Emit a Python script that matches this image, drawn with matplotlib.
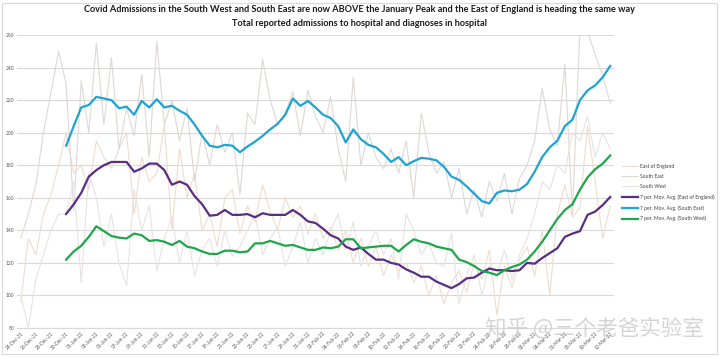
import matplotlib
matplotlib.use("Agg")
import matplotlib.pyplot as plt
import matplotlib.dates as mdates
import matplotlib.patches as mpatches
import numpy as np
import pandas as pd

# ---------------- data ----------------
start_date = "2021-12-24"
end_date = "2022-03-12"
dates = pd.date_range(start_date, end_date, freq="D")

east_of_england = [96, 135, 125, 150, 162, 180, 200, 175, 180, 165,
                   195, 185, 178, 190, 200, 150, 185, 170, 175, 205,
                   140, 190, 160, 175, 140, 150, 130, 160, 165, 138,
                   155, 145, 168, 152, 140, 160, 148, 155, 138, 150,
                   135, 142, 128, 140, 120, 135, 118, 130, 112, 125,
                   115, 120, 108, 118, 100, 112, 95, 108, 115, 102,
                   120, 110, 128, 88, 118, 105, 122, 130, 112, 140,
                   100, 150, 168, 148, 154, 204, 170, 135, 155]

south_east = [135, 150, 168, 200, 225, 250, 230, 152, 232, 200,
              255, 205, 246, 190, 215, 198, 236, 185, 256, 205,
              220, 195, 215, 170, 200, 180, 205, 188, 200, 162,
              212, 205, 245, 220, 205, 212, 225, 198, 226, 210,
              200, 222, 190, 170, 234, 180, 200, 185, 178, 190,
              175, 195, 160, 212, 188, 175, 182, 160, 178, 150,
              165, 148, 170, 158, 175, 150, 172, 180, 195, 227,
              202, 192, 242, 150, 265, 262, 248, 235, 218]

south_west = [100, 80, 110, 125, 140, 150, 150, 170, 108, 175,
              160, 130, 150, 120, 106, 165, 140, 155, 115, 135,
              148, 120, 140, 112, 128, 135, 118, 140, 124, 130,
              140, 150, 125, 135, 142, 118, 130, 145, 120, 135,
              125, 140, 150, 128, 145, 118, 130, 140, 125, 135,
              110, 150, 140, 125, 132, 120, 118, 138, 95, 112,
              125, 100, 118, 112, 128, 110, 125, 135, 150, 170,
              165, 180, 175, 200, 195, 210, 185, 200, 190]

# 7-period moving averages (shown from the 7th day onward)
ma_east_of_england = [150, 156, 163, 173, 177, 180, 182, 182, 182, 176,
                      178, 181, 181, 177, 168, 170, 168, 161, 156, 149,
                      149.5, 152.5, 149.5, 149.5, 150, 148, 150.5, 149.5, 149.5, 149.5,
                      152.5, 149.5, 145.5, 144.5, 141, 137, 135, 130, 128, 129.5,
                      125.5, 122, 122, 120, 119, 116, 114, 111.5, 111.5, 108.5,
                      106.5, 104.5, 107, 110.5, 111, 114, 116.5, 115.5, 115.5, 115,
                      115.5, 120, 119.5, 123, 126, 129, 136, 138, 139.5, 149.5,
                      151.5, 155.5, 160.5]

ma_south_east = [192, 204, 215.5, 217, 222, 221, 220, 215, 216, 211,
                 219.5, 215.5, 220.5, 215.5, 216.5, 213.5, 211, 205, 198, 192,
                 191, 192.5, 192, 188, 191.5, 194.5, 198, 202, 205.5, 211,
                 221, 216.5, 219.5, 215.5, 211, 209, 204, 194, 202, 196,
                 192.5, 191, 187, 182, 185, 180, 182.5, 184.5, 184, 183,
                 179, 173, 171, 167, 162.5, 158, 156.5, 163, 164.5, 164,
                 165, 168.5, 176, 185, 191, 195, 204, 208, 220, 226,
                 229, 234, 241]

ma_south_west = [122, 127, 130.5, 136, 142.5, 139.5, 136.5, 135.5, 135, 138,
                 137, 133.5, 134, 133, 131, 133.5, 130, 129, 127, 125.5,
                 125.5, 127.5, 127.5, 126.5, 127, 132, 132, 133.5, 132, 130.5,
                 131, 129.5, 128, 128, 129.5, 129, 130, 134.5, 134.5, 129,
                 129.5, 130, 130.5, 130.5, 127, 131, 134.5, 133, 132, 130,
                 129, 128, 122, 120.5, 118, 115, 114, 112.5, 115.5, 117.5,
                 119, 122, 127, 133, 140, 147, 152.5, 156, 165, 172.5,
                 177.5, 181, 186]

ma_window = 7

title_line1 = ("Covid Admissions in the South West and South East are now ABOVE "
               "the January Peak and the East of England is heading the same way")
title_line2 = "Total reported admissions to hospital and diagnoses in hospital"
watermark = "知乎 @三个老爸实验室"

# ---------------- figure ----------------
plt.rcParams["font.family"] = ["Lato", "DejaVu Sans"]
fig = plt.figure(figsize=(7.2, 3.57), dpi=100)
ax = fig.add_axes([17 / 720, 1 - 328 / 357, (614 - 17) / 720, (328 - 35) / 357])

raw_lw = 0.8
ax.plot(dates, east_of_england, color="#efdccd", lw=raw_lw, label="East of England", zorder=2)
ax.plot(dates, south_east, color="#ddd8d5", lw=raw_lw, label="South East", zorder=2)
ax.plot(dates, south_west, color="#e8e2e2", lw=raw_lw, label="South West", zorder=2)

ma_dates = dates[ma_window - 1:]
ax.plot(ma_dates, ma_east_of_england, color="#5a2d84", lw=1.6,
        label="7 per. Mov. Avg. (East of England)", zorder=4)
ax.plot(ma_dates, ma_south_east, color="#1fa3d3", lw=1.6,
        label="7 per. Mov. Avg. (South East)", zorder=4)
ax.plot(ma_dates, ma_south_west, color="#1ea64c", lw=1.6,
        label="7 per. Mov. Avg. (South West)", zorder=4)

ax.set_ylim(80, 260)
ax.set_yticks(np.arange(80, 261, 20))
ax.set_xlim(dates[0] - pd.Timedelta(hours=12), dates[-1] + pd.Timedelta(hours=12))
ax.set_xticks(dates[::2])
ax.xaxis.set_major_formatter(mdates.DateFormatter("%d-%b-%y"))
for lab in ax.get_xticklabels():
    lab.set_rotation(45)
    lab.set_ha("right")
    lab.set_rotation_mode("anchor")
    lab.set_fontsize(3.4)
    lab.set_color("#595959")
for lab in ax.get_yticklabels():
    lab.set_fontsize(3.5)
    lab.set_color("#595959")
ax.tick_params(axis="both", length=0, pad=2)

ax.grid(axis="y", color="#d9d9d9", lw=0.8)
ax.set_axisbelow(True)
for side in ["top", "right", "left"]:
    ax.spines[side].set_visible(False)
ax.spines["bottom"].set_color("#d9d9d9")
ax.spines["bottom"].set_linewidth(0.8)

fig.text(0.5, 1 - 10 / 357, title_line1, ha="center", va="center",
         fontsize=6.6, fontweight="bold", color="#1a1a1a")
fig.text(0.5, 1 - 23 / 357, title_line2, ha="center", va="center",
         fontsize=6.6, fontweight="bold", color="#1a1a1a")

leg = fig.legend(loc="center left", bbox_to_anchor=(620 / 720, 1 - 192.5 / 357),
                 frameon=False, fontsize=3.6, handlelength=3.2, labelspacing=1.05,
                 handletextpad=0.5, borderaxespad=0)
for t in leg.get_texts():
    t.set_color("#404040")

fig.text(594 / 720, 1 - 328 / 357, watermark, ha="center", va="center",
         fontsize=15.5, color="#c8c8c8", alpha=0.75,
         family=["Noto Sans CJK SC", "DejaVu Sans"], zorder=10)

fig.patches.append(mpatches.Rectangle((2 / 720, 3 / 357), 715 / 720, 351 / 357,
                                      transform=fig.transFigure, fill=False,
                                      edgecolor="#d9d9d9", lw=0.8))

fig.savefig("out.png", dpi=100, facecolor="white")
